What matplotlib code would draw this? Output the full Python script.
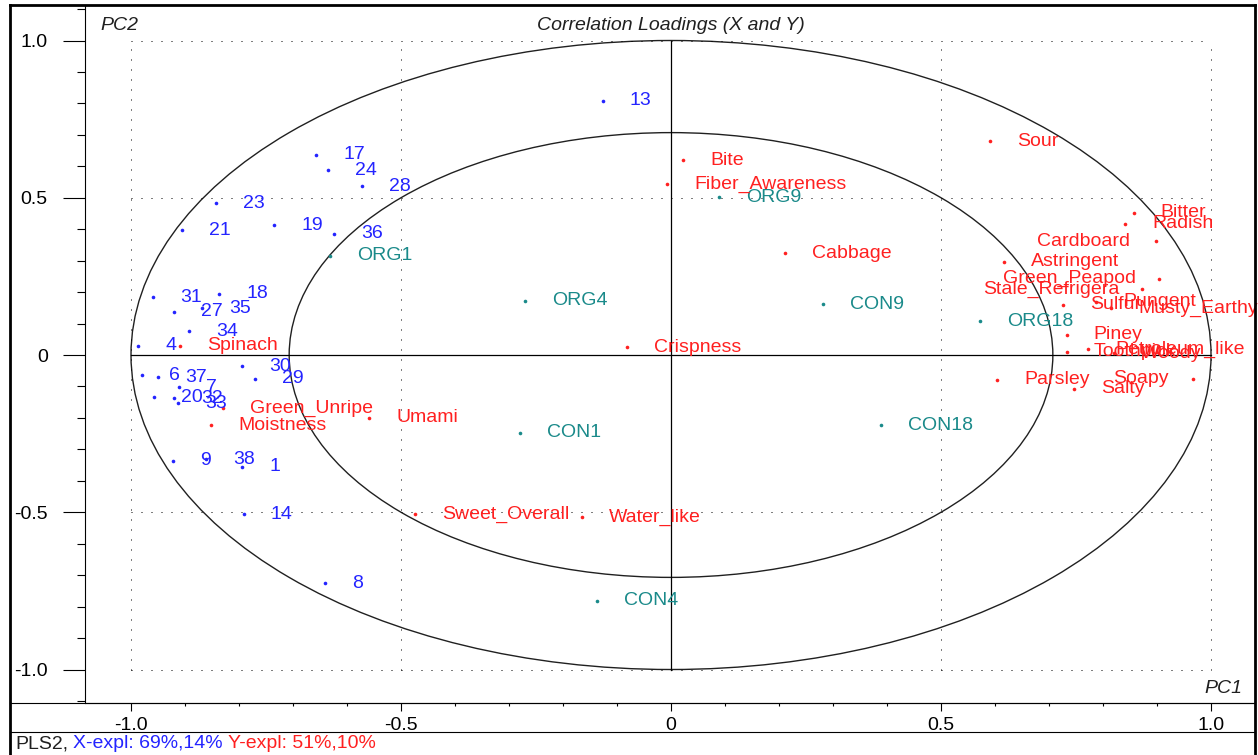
import numpy as np
import matplotlib.pyplot as plt
from matplotlib.patches import Ellipse
from matplotlib.lines import Line2D

# sample scores (X), shown as numbers
sample_names = ['13', '17', '24', '28', '23', '21', '19', '36', '31', '18',
                '27', '35', '34', '4', '30', '29', '6', '37', '7', '20',
                '32', '33', '9', '38', '1', '14', '8']
sample_pc1 = [-0.126, -0.657, -0.635, -0.572, -0.843, -0.906, -0.735, -0.624, -0.959, -0.837,
              -0.920, -0.869, -0.893, -0.987, -0.794, -0.770, -0.980, -0.950, -0.911, -0.957,
              -0.920, -0.913, -0.922, -0.861, -0.794, -0.791, -0.641]
sample_pc2 = [0.808, 0.636, 0.588, 0.537, 0.483, 0.397, 0.413, 0.385, 0.184, 0.194,
              0.137, 0.149, 0.076, 0.029, -0.035, -0.076, -0.064, -0.070, -0.102, -0.134,
              -0.137, -0.153, -0.337, -0.331, -0.356, -0.506, -0.725]

# sensory attributes (Y)
attr_names = ['Sour', 'Bite', 'Fiber_Awareness', 'Cabbage', 'Crispness', 'Spinach',
              'Green_Unripe', 'Moistness', 'Umami', 'Sweet_Overall', 'Water_like',
              'Bitter', 'Radish', 'Cardboard', 'Astringent', 'Green_Peapod',
              'Stale_Refrigera', 'Sulfur', 'Pungent', 'Musty_Earthy', 'Piney',
              'Toothpick', 'Petroleum_like', 'Woody', 'Parsley', 'Salty', 'Soapy']
attr_pc1 = [0.591, 0.022, -0.007, 0.211, -0.081, -0.909,
            -0.830, -0.852, -0.559, -0.474, -0.165,
            0.857, 0.841, 0.898, 0.617, 0.904,
            0.872, 0.726, 0.787, 0.815, 0.733,
            0.733, 0.772, 0.820, 0.604, 0.746, 0.967]
attr_pc2 = [0.680, 0.620, 0.544, 0.324, 0.025, 0.029,
            -0.169, -0.223, -0.200, -0.506, -0.515,
            0.452, 0.417, 0.362, 0.296, 0.242,
            0.210, 0.159, 0.169, 0.149, 0.064,
            0.010, 0.019, 0.005, -0.079, -0.108, -0.076]

# design variables
design_names = ['ORG9', 'ORG1', 'ORG4', 'CON9', 'ORG18', 'CON1', 'CON18', 'CON4']
design_pc1 = [0.089, -0.631, -0.270, 0.281, 0.572, -0.280, 0.389, -0.137]
design_pc2 = [0.502, 0.315, 0.172, 0.162, 0.108, -0.248, -0.223, -0.782]

# labels that sit left of their point (pixel offsets)
label_shift = {'Cardboard': (-119, 0), 'Green_Peapod': (-156, 0),
               'Stale_Refrigera': (-159, 0), 'Soapy': (-80, 0)}

BLUE = '#2424ff'
RED = '#ff2020'
TEAL = '#1a8a8a'
FS = 14

plt.rcParams['font.family'] = ['Liberation Sans', 'DejaVu Sans']

W, H = 1258, 755
fig = plt.figure(figsize=(W / 100, H / 100), dpi=100)
ax = fig.add_axes([85 / W, 1 - 703 / H, (1254 - 85) / W, (703 - 6) / H])
ax.set_xlim(-1.0852, 1.0796)
ax.set_ylim(-1.1065, 1.1097)

# 50% and 100% explained variance ellipses
for r in (1.0, np.sqrt(0.5)):
    ax.add_patch(Ellipse((0, 0), 2 * r, 2 * r, fill=False, color='#202020', lw=1.0))

# dotted grid and solid zero lines
for v in (-1, -0.5, 0.5, 1):
    ax.plot([v, v], [-1, 1], color='k', lw=0.72, ls=(0, (1, 9)))
    ax.plot([-1, 1], [v, v], color='k', lw=0.72, ls=(0, (1, 9)))
ax.plot([-1, 1], [0, 0], color='k', lw=0.9)
ax.plot([0, 0], [-1, 1], color='k', lw=0.9)


def draw_group(names, xs, ys, color):
    ax.plot(xs, ys, 'o', ms=2.6, color=color, mew=0)
    for name, x, y in zip(names, xs, ys):
        dx, dy = label_shift.get(name, (27, 0))
        ax.annotate(name, (x, y), xytext=(dx, dy), textcoords='offset pixels',
                    color=color, fontsize=FS, ha='left', va='center')


draw_group(sample_names, sample_pc1, sample_pc2, BLUE)
draw_group(design_names, design_pc1, design_pc2, TEAL)
draw_group(attr_names, attr_pc1, attr_pc2, RED)

ax.text(-1.056, 1.049, 'PC2', style='italic', fontsize=FS, color='#202020',
        ha='left', va='center')
ax.text(0, 1.049, 'Correlation Loadings (X and Y)', style='italic', fontsize=FS,
        color='#202020', ha='center', va='center')
ax.text(1.059, -1.059, 'PC1', style='italic', fontsize=FS, color='#202020',
        ha='right', va='center')

# ticks
ticks = [-1.0, -0.5, 0, 0.5, 1.0]
tick_labels = ['-1.0', '-0.5', '0', '0.5', '1.0']
ax.set_xticks(ticks, labels=tick_labels)
ax.set_yticks(ticks, labels=tick_labels)
ax.set_xticks(np.arange(-1.0, 1.01, 0.1), minor=True)
ax.set_yticks(np.arange(-1.1, 1.11, 0.1), minor=True)
ax.tick_params(axis='x', which='major', length=5.8, width=0.8, labelsize=FS, pad=4)
ax.tick_params(axis='x', which='minor', length=2.2, width=0.8)
ax.tick_params(axis='y', which='major', length=15.8, width=0.8, labelsize=FS, pad=11)
ax.tick_params(axis='y', which='minor', length=5.8, width=0.8)
for side in ('top', 'right'):
    ax.spines[side].set_visible(False)
for side in ('left', 'bottom'):
    ax.spines[side].set_linewidth(0.8)


# window frame and status bar
def fig_line(x0, y0, x1, y1, lw):
    fig.add_artist(Line2D([x0 / W, x1 / W], [1 - y0 / H, 1 - y1 / H],
                          color='k', lw=lw, transform=fig.transFigure))


fig_line(10, 5, 1255, 5, 2.0)
fig_line(10, 5, 10, 755, 2.0)
fig_line(1255, 5, 1255, 755, 2.0)
fig_line(10, 703, 1255, 703, 0.8)
fig_line(10, 732, 1255, 732, 0.8)

sy = 1 - 744 / H
fig.text(15 / W, sy, 'PLS2,', color='#202020', fontsize=FS, va='center')
fig.text(73 / W, sy, 'X-expl: 69%,14%', color=BLUE, fontsize=FS, va='center')
fig.text(228 / W, sy, 'Y-expl: 51%,10%', color=RED, fontsize=FS, va='center')

fig.savefig('out.png', dpi=100)
